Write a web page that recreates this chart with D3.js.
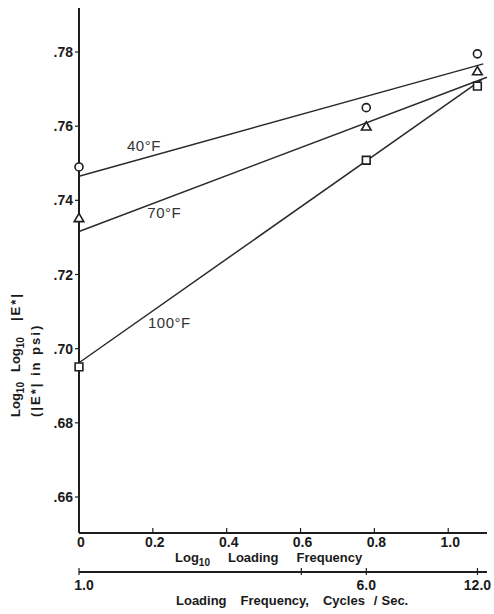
<!DOCTYPE html>
<html>
<head>
<meta charset="utf-8">
<script src="https://cdn.jsdelivr.net/npm/d3@7"></script>
<style>
  body { margin: 0; background: #fff; }
  svg { display: block; }
  text { font-family: "Liberation Sans", Arial, sans-serif; fill: #1a1a1a; }
  .tick-label { font-size: 14px; font-weight: bold; }
  .axis-title { font-size: 13px; font-weight: bold; }
  .series-label { font-size: 15px; fill: #333; letter-spacing: 0.5px; }
</style>
</head>
<body>
<div id="chart"></div>
<script>
// x values: log10 of loading frequency (1, 6, 12 cps)
var logFreq = [0, 0.778, 1.079];

var seriesNames = ["40°F", "70°F", "100°F"];
var seriesMarkers = ["circle", "triangle", "square"];

// measured log10 log10 |E*|
var values40 = [0.749, 0.765, 0.7795];
var values70 = [0.735, 0.7597, 0.7746];
var values100 = [0.6951, 0.7508, 0.7708];

// fitted straight lines, start and end points
var fit40 = [[0, 0.7465], [1.095, 0.7768]];
var fit70 = [[0, 0.7316], [1.105, 0.7732]];
var fit100 = [[0, 0.6962], [1.09, 0.7725]];

// where each temperature label sits (x in log freq, y in value units)
var labelPos = [[0.13, 0.7533], [0.185, 0.7353], [0.187, 0.7057]];

var yTicks = [0.66, 0.68, 0.70, 0.72, 0.74, 0.76, 0.78];
var xTicks = [0, 0.2, 0.4, 0.6, 0.8, 1.0];
var xTickLabels = ["0", "0.2", "0.4", "0.6", "0.8", "1.0"];
var freqTicks = [1, 4, 6, 12];
var freqTickLabels = ["1.0", "", "6.0", "12.0"];

var width = 494, height = 614;

var x = d3.scaleLinear().domain([0, 1.105]).range([79, 487]);
var y = d3.scaleLinear().domain([0.66, 0.78]).range([497, 52]);
var freq = d3.scaleLog().domain([1, Math.pow(10, 1.105)]).range([79, 487]);

var svg = d3.select("#chart").append("svg")
  .attr("width", width)
  .attr("height", height);

var ink = "#1e1e1e";

// y axis
var yAxisTop = y.invert(8), yAxisBottom = y.invert(533);
svg.append("line")
  .attr("x1", x(0)).attr("x2", x(0))
  .attr("y1", y(yAxisTop)).attr("y2", y(yAxisBottom))
  .attr("stroke", ink).attr("stroke-width", 2);

svg.selectAll(".ytick")
  .data(yTicks)
  .enter()
  .append("line")
  .attr("class", "ytick")
  .attr("x1", x(0) - 4).attr("x2", x(0))
  .attr("y1", function (d) { return y(d); })
  .attr("y2", function (d) { return y(d); })
  .attr("stroke", ink).attr("stroke-width", 1.2);

svg.selectAll(".ylabel")
  .data(yTicks)
  .enter()
  .append("text")
  .attr("class", "tick-label")
  .attr("text-anchor", "end")
  .attr("x", x(0) - 6)
  .attr("y", function (d) { return y(d) + 5; })
  .text(function (d) { return d3.format(".2f")(d).replace(/^0/, ""); });

// x axis (log10 loading frequency)
svg.append("line")
  .attr("x1", x(0)).attr("x2", x(1.105))
  .attr("y1", y(yAxisBottom)).attr("y2", y(yAxisBottom))
  .attr("stroke", ink).attr("stroke-width", 2);

svg.selectAll(".xtick")
  .data(xTicks)
  .enter()
  .append("line")
  .attr("x1", function (d) { return x(d); })
  .attr("x2", function (d) { return x(d); })
  .attr("y1", y(yAxisBottom) - 5).attr("y2", y(yAxisBottom))
  .attr("stroke", ink).attr("stroke-width", 1.2);

svg.selectAll(".xlabel")
  .data(xTicks)
  .enter()
  .append("text")
  .attr("class", "tick-label")
  .attr("text-anchor", "middle")
  .attr("x", function (d) { return x(d) + 2; })
  .attr("y", 547)
  .text(function (d, i) { return xTickLabels[i]; });

var t1 = svg.append("text").attr("class", "axis-title").attr("x", 175).attr("y", 562);
t1.append("tspan").text("Log");
t1.append("tspan").attr("dy", 4).attr("font-size", 10).text("10");
t1.append("tspan").attr("dy", -4).attr("dx", 18).text("Loading");
t1.append("tspan").attr("dx", 18).text("Frequency");

// second x axis (loading frequency, cps)
var axis2Y = 572;
svg.append("line")
  .attr("x1", freq(1)).attr("x2", freq(Math.pow(10, 1.105)))
  .attr("y1", axis2Y).attr("y2", axis2Y)
  .attr("stroke", ink).attr("stroke-width", 2);

svg.selectAll(".ftick")
  .data(freqTicks)
  .enter()
  .append("line")
  .attr("x1", function (d) { return freq(d); })
  .attr("x2", function (d) { return freq(d); })
  .attr("y1", axis2Y - 4).attr("y2", axis2Y + 3)
  .attr("stroke", ink).attr("stroke-width", 1.2);

svg.selectAll(".flabel")
  .data(freqTicks)
  .enter()
  .append("text")
  .attr("class", "tick-label")
  .attr("text-anchor", "middle")
  .attr("x", function (d) { return freq(d) + (d === 1 ? 5 : 0); })
  .attr("y", 590)
  .text(function (d, i) { return freqTickLabels[i]; });

var t2 = svg.append("text").attr("class", "axis-title").attr("x", 176).attr("y", 605);
t2.append("tspan").text("Loading");
t2.append("tspan").attr("dx", 14).text("Frequency,");
t2.append("tspan").attr("dx", 14).text("Cycles");
t2.append("tspan").attr("dx", 9).text("/");
t2.append("tspan").attr("dx", 4).text("Sec.");

// y axis title, two rotated lines
var yt1 = svg.append("text")
  .attr("class", "axis-title")
  .attr("transform", "translate(20,417) rotate(-90)");
yt1.append("tspan").text("Log");
yt1.append("tspan").attr("dy", 4).attr("font-size", 10).text("10");
yt1.append("tspan").attr("dy", -4).attr("dx", 10).text("Log");
yt1.append("tspan").attr("dy", 4).attr("font-size", 10).text("10");
yt1.append("tspan").attr("dy", -4).attr("dx", 16).attr("letter-spacing", "2px").text("|E*|");

svg.append("text")
  .attr("class", "axis-title")
  .attr("letter-spacing", "2px")
  .attr("transform", "translate(40,417) rotate(-90)")
  .text("(|E*| in psi)");

// fitted lines
var fits = [fit40, fit70, fit100];
var line = d3.line()
  .x(function (d) { return x(d[0]); })
  .y(function (d) { return y(d[1]); });

svg.selectAll(".fit")
  .data(fits)
  .enter()
  .append("path")
  .attr("d", line)
  .attr("fill", "none")
  .attr("stroke", "#2a2a2a")
  .attr("stroke-width", 1.5);

// markers
var allValues = [values40, values70, values100];
var symbolTypes = { circle: d3.symbolCircle, triangle: d3.symbolTriangle, square: d3.symbolSquare };
var symbolSizes = { circle: 50, triangle: 40, square: 60 };

allValues.forEach(function (vals, s) {
  var shape = seriesMarkers[s];
  svg.selectAll(".pt" + s)
    .data(vals)
    .enter()
    .append("path")
    .attr("d", d3.symbol().type(symbolTypes[shape]).size(symbolSizes[shape]))
    .attr("transform", function (d, i) {
      return "translate(" + x(logFreq[i]) + "," + y(d) + ")";
    })
    .attr("fill", "#fff")
    .attr("stroke", ink)
    .attr("stroke-width", 1.6);
});

// temperature labels
svg.selectAll(".series-label")
  .data(seriesNames)
  .enter()
  .append("text")
  .attr("class", "series-label")
  .attr("x", function (d, i) { return x(labelPos[i][0]); })
  .attr("y", function (d, i) { return y(labelPos[i][1]); })
  .text(function (d) { return d; });
</script>
</body>
</html>
